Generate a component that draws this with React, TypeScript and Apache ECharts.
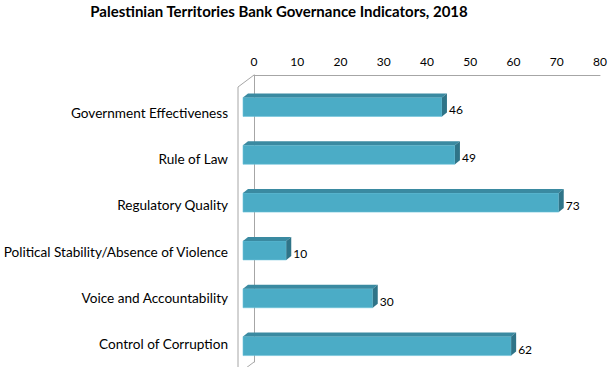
import React, { useEffect, useRef } from "react";
import * as echarts from "echarts";

const categories = [
  "Government Effectiveness",
  "Rule of Law",
  "Regulatory Quality",
  "Political Stability/Absence of Violence",
  "Voice and Accountability",
  "Control of Corruption",
];
const values = [46, 49, 73, 10, 30, 62];
const titleText = "Palestinian Territories Bank Governance Indicators, 2018";

const FONT = "Lato, 'Open Sans', sans-serif";

export default function App() {
  const ref = useRef<HTMLDivElement>(null);
  useEffect(() => {
    const chart = echarts.init(ref.current!, null, { renderer: "svg" });
    const H = 367;
    const gLeft = 254;
    const gTop = 75;
    const gH = 287;
    const wallDx = -16;
    const wallDy = 12;
    chart.setOption({
      animation: false,
      backgroundColor: "#ffffff",
      title: {
        text: titleText,
        left: 274,
        textAlign: "center",
        top: -2,
        textStyle: { fontFamily: FONT, fontSize: 15, fontWeight: "bold", color: "#000" },
      },
      grid: [
        { left: gLeft, top: gTop, width: 346, height: gH },
        { left: gLeft, top: gTop + 15, width: 346, height: gH },
      ],
      xAxis: [
        {
          gridIndex: 0,
          type: "value",
          position: "top",
          min: 0,
          max: 80,
          interval: 10,
          axisLine: { show: true, lineStyle: { color: "#a6a6a6", width: 1 } },
          axisTick: { show: false },
          splitLine: { show: false },
          axisLabel: { margin: 8, fontFamily: FONT, fontSize: 12, color: "#000" },
        },
        { gridIndex: 1, type: "value", min: 0, max: 80, show: false },
      ],
      yAxis: [
        {
          gridIndex: 0,
          type: "category",
          data: categories,
          inverse: true,
          axisLine: { show: true, lineStyle: { color: "#a6a6a6" } },
          axisTick: { show: false },
          axisLabel: { show: false },
        },
        {
          gridIndex: 1,
          type: "category",
          data: categories,
          inverse: true,
          axisLine: { show: false },
          axisTick: { show: false },
          axisLabel: { margin: 33, fontFamily: FONT, fontSize: 13.6, color: "#000" },
        },
      ],
      graphic: [
        {
          type: "line",
          shape: { x1: gLeft, y1: gTop, x2: gLeft + wallDx, y2: gTop + wallDy },
          style: { stroke: "#a6a6a6", lineWidth: 1 },
        },
        {
          type: "line",
          shape: { x1: gLeft + wallDx, y1: gTop + wallDy, x2: gLeft + wallDx, y2: H + 5 },
          style: { stroke: "#a6a6a6", lineWidth: 1 },
        },
        {
          type: "line",
          shape: { x1: gLeft, y1: gTop + gH, x2: gLeft + wallDx, y2: gTop + gH + wallDy },
          style: { stroke: "#a6a6a6", lineWidth: 1 },
        },
      ],
      series: [
        {
          type: "custom",
          xAxisIndex: 0,
          yAxisIndex: 0,
          data: values.map((v, i) => [v, i]),
          renderItem: (params: any, api: any) => {
            const v = api.value(0);
            const c = api.value(1);
            const p0 = api.coord([0, c]);
            const p1 = api.coord([v, c]);
            const fx = -11;
            const fy = 8;
            const x0 = p0[0] + fx;
            const x1 = p1[0] + fx;
            const yc = p0[1] + fy;
            const h = 19;
            const yt = yc - h / 2;
            const yb = yc + h / 2;
            const dx = 5;
            const dy = -4;
            return {
              type: "group",
              children: [
                {
                  type: "rect",
                  shape: { x: x0, y: yt, width: x1 - x0, height: h },
                  style: { fill: "#4BACC6", stroke: "#6cc3da", lineWidth: 0.6 },
                },
                {
                  type: "polygon",
                  shape: { points: [[x0, yt], [x1, yt], [x1 + dx, yt + dy], [x0 + dx, yt + dy]] },
                  style: { fill: "#3a8aa1" },
                },
                {
                  type: "polygon",
                  shape: { points: [[x1, yt], [x1 + dx, yt + dy], [x1 + dx, yb + dy], [x1, yb]] },
                  style: { fill: "#2f7488" },
                },
                {
                  type: "text",
                  style: {
                    text: String(v),
                    x: x1 + dx + 2,
                    y: yc + 3,
                    verticalAlign: "middle",
                    align: "left",
                    fontFamily: FONT,
                    fontSize: 12,
                    fill: "#000",
                  },
                },
              ],
            };
          },
        },
      ],
    });
    return () => chart.dispose();
  }, []);
  return <div ref={ref} style={{ width: 611, height: 367, position: "absolute", left: 0, top: 0 }} />;
}
